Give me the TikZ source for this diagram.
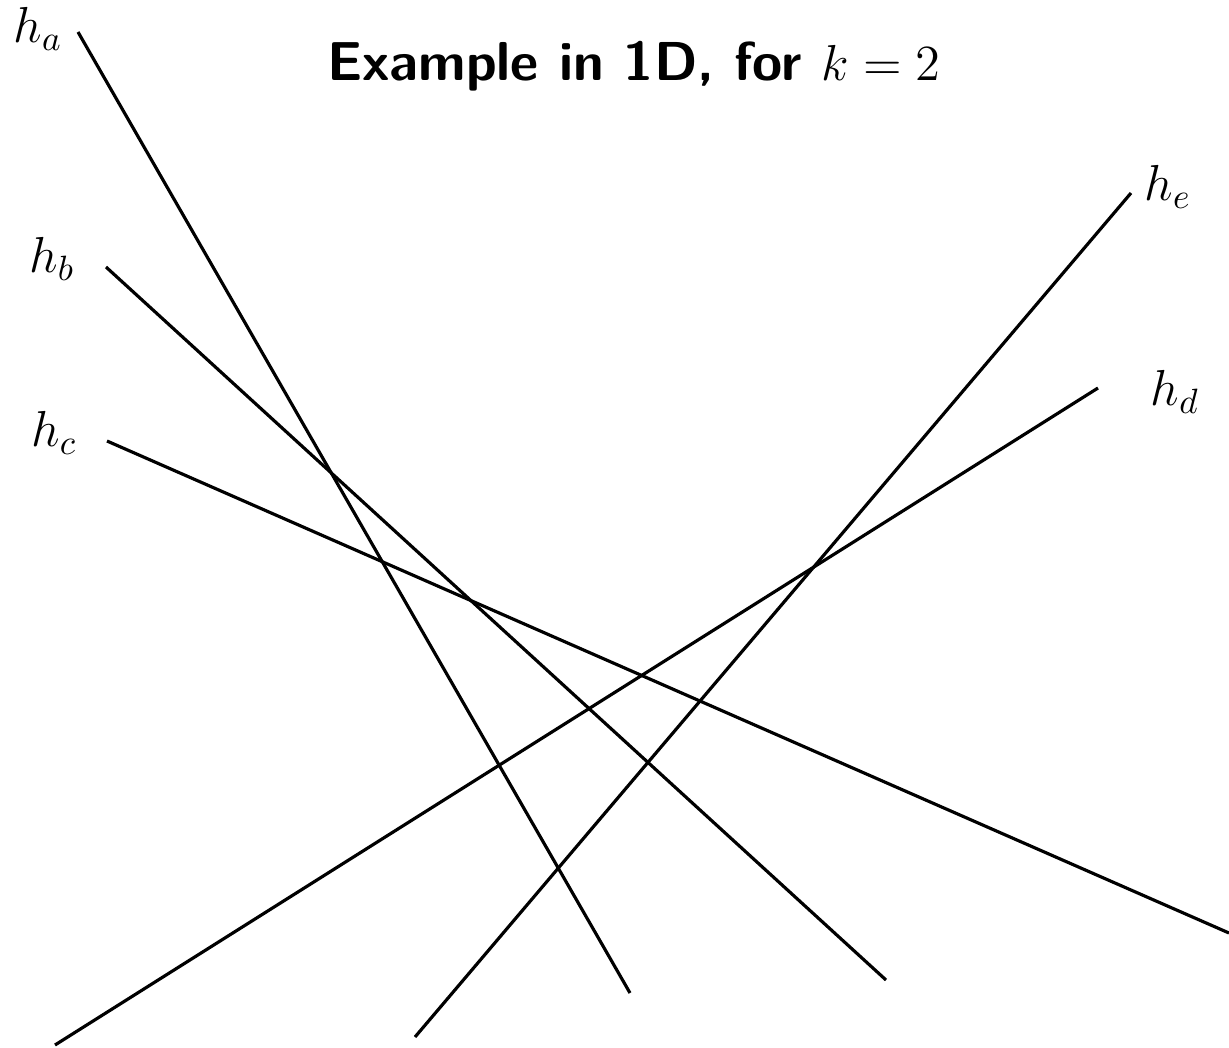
\documentclass[tikz,border=0pt]{standalone}
\usepackage{amsmath}
\usetikzlibrary{positioning}
\tikzset{
  hline/.style={line width=0.9pt},
  hlabel/.style={font=\fontsize{13.8}{16}\selectfont},
  titlefont/.style={font=\fontsize{15.6}{18}\selectfont\sffamily\bfseries}
}

\begin{document}
\begin{tikzpicture}[x=0.1mm,y=-0.1mm]
  \useasboundingbox (0,0) rectangle (1229,1047);
  \node[titlefont] (title) at (634,66) {Example in 1D, for $k=2$};
  % end points of the lines
  \coordinate (a1) at (78,32);    \coordinate (a2) at (630,993);
  \coordinate (b1) at (106,267);  \coordinate (b2) at (886,980);
  \coordinate (c1) at (107,441);  \coordinate (c2) at (1229,933);
  \coordinate (d1) at (1098,388); \coordinate (d2) at (55,1045);
  \coordinate (e1) at (1131,193); \coordinate (e2) at (415,1037);
  \draw[hline] (a1) -- (a2);
  \draw[hline] (b1) -- (b2);
  \draw[hline] (c1) -- (c2);
  \draw[hline] (d1) -- (d2);
  \draw[hline] (e1) -- (e2);
  % labels
  \node[hlabel] (la) at (38,29) {$h_a$};
  \node[hlabel] (lb) at (52,259) {$h_b$};
  \node[hlabel] (lc) at (54,433) {$h_c$};
  \node[hlabel] (ld) at (1175,392) {$h_d$};
  \node[hlabel] (le) at (1168,187) {$h_e$};
\end{tikzpicture}
\end{document}
